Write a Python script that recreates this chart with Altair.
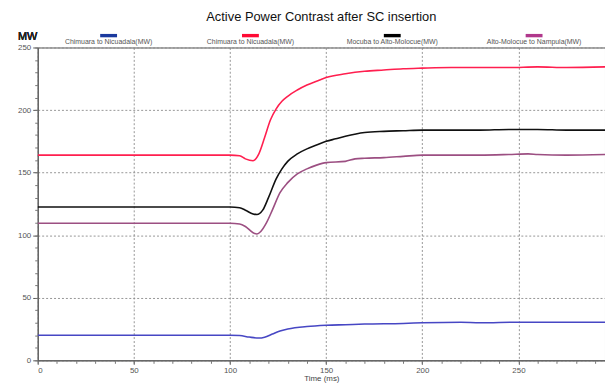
import altair as alt
import pandas as pd

FONT = "Liberation Sans"

series_ids = ["s1", "s2", "s3", "s4"]
series_labels = ["Chimuara to Nicuadala(MW)", "Chimuara to Nicuadala(MW)",
                 "Mocuba to Alto-Molocue(MW)", "Alto-Molocue to Nampula(MW)"]
line_colors = ["#4747c4", "#ff1f4f", "#111111", "#9c4f82"]
swatch_colors = ["#1b3a9e", "#ff0a35", "#000000", "#b0388c"]

t_blue = [0, 100, 105, 110, 115, 118, 122, 126, 130, 140, 150, 160, 170, 190, 200, 220, 230, 250, 270, 295]
v_blue = [20, 20, 19.8, 18.6, 17.8, 18.5, 21, 23.5, 25, 27, 28, 28.5, 29, 29.5, 30, 30.5, 30, 30.5, 30.5, 30.5]

t_red = [0, 100, 105, 108, 112, 115, 118, 121, 124, 127, 130, 135, 140, 145, 150, 160, 170, 180, 190, 200, 215, 230, 245, 260, 275, 295]
v_red = [164, 164, 163.5, 161, 159.5, 165, 178, 192, 201, 207, 211, 216, 220, 223, 226, 229, 231, 232, 233, 233.5, 234, 234, 234, 234.5, 234, 234.5]

t_black = [0, 100, 105, 108, 112, 114, 117, 120, 124, 127, 130, 135, 140, 145, 150, 155, 160, 170, 180, 190, 200, 215, 230, 245, 260, 275, 295]
v_black = [122.5, 122.5, 122, 120, 117, 116.5, 120, 130, 145, 153, 159, 165, 169, 172, 175, 177, 179, 182, 183, 183.5, 184, 184, 184, 184.5, 184.5, 184, 184]

t_pink = [0, 100, 105, 108, 112, 114, 116, 119, 122, 126, 130, 135, 140, 145, 150, 160, 165, 170, 180, 190, 200, 215, 230, 245, 255, 260, 275, 295]
v_pink = [109.5, 109.5, 109, 107, 102, 101, 103, 110, 120, 134, 142, 149, 153, 156, 158, 159, 161, 161.5, 162, 163, 164, 164, 164, 164.5, 165, 164.5, 164, 164.5]

rows = []
for sid, ts, vs in zip(series_ids, [t_blue, t_red, t_black, t_pink], [v_blue, v_red, v_black, v_pink]):
    for t, v in zip(ts, vs):
        rows.append({"id": sid, "t": t, "v": v})
df = pd.DataFrame(rows)
leg = pd.DataFrame({"id": series_ids, "label": series_labels})

W, H = 573, 316
xscale = alt.Scale(domain=[0, 295], nice=False, zero=False)
yscale = alt.Scale(domain=[0, 250], nice=False)

lines = alt.Chart(df).mark_line(strokeWidth=1.6, interpolate="monotone", clip=True).encode(
    x=alt.X("t:Q", scale=xscale, title="Time (ms)",
            axis=alt.Axis(orient="bottom", values=[0, 50, 100, 150, 200, 250, 300], grid=True, gridDash=[2, 2],
                          gridColor="#8a8a8a", gridOpacity=0.9, tickSize=4, tickColor="#555",
                          domainColor="#555", labelFontSize=8, labelColor="#555", labelFont=FONT,
                          titleFont=FONT, titleFontSize=8, titleFontWeight="normal", titleColor="#444",
                          titlePadding=0, labelPadding=2)),
    y=alt.Y("v:Q", scale=yscale, title=None,
            axis=alt.Axis(orient="left", values=[0, 50, 100, 150, 200, 250], grid=True, gridDash=[2, 2],
                          gridColor="#8a8a8a", gridOpacity=0.9, tickSize=5, tickColor="#555",
                          domainColor="#555", labelFontSize=8, labelColor="#555", labelFont=FONT,
                          labelPadding=2)),
    color=alt.Color("id:N", scale=alt.Scale(domain=series_ids, range=line_colors), legend=None),
)

minor = alt.Chart(df).mark_line(opacity=0).encode(
    x=alt.X("t:Q", scale=xscale, title=None,
            axis=alt.Axis(orient="bottom", values=list(range(0, 300, 10)), labels=False, grid=False,
                          domain=False, tickSize=3, tickColor="#777")),
    y=alt.Y("v:Q", scale=yscale, title=None,
            axis=alt.Axis(orient="left", values=list(range(0, 251, 10)), labels=False, grid=False,
                          domain=False, tickSize=3, tickColor="#777")),
)

legx = alt.X("id:N", scale=alt.Scale(domain=series_ids, padding=0.5), axis=None)
swatch = alt.Chart(leg).mark_point(
    shape="M-1,-0.2H1V0.2H-1Z", size=290, filled=True, opacity=1, clip=False
).encode(
    x=legx, y=alt.value(-12),
    color=alt.Color("id:N", scale=alt.Scale(domain=series_ids, range=swatch_colors), legend=None),
)
labels = alt.Chart(leg).mark_text(fontSize=7, font=FONT, color="#555", baseline="middle").encode(
    x=legx, y=alt.value(-6), text="label:N"
)
mw = alt.Chart(leg).mark_text(fontSize=11, font=FONT, color="#222", align="left", baseline="middle").encode(
    x=alt.value(-20), y=alt.value(-11), text=alt.value("MW")
)

base = alt.layer(lines, minor).resolve_axis(x="independent", y="independent")
legend_layer = alt.layer(swatch, labels, mw)

chart = alt.layer(base, legend_layer).resolve_scale(x="independent", color="independent").properties(
    width=W, height=H,
    title=alt.TitleParams("Active Power Contrast after SC insertion", fontSize=13, font=FONT,
                          fontWeight="normal", color="#111", anchor="middle", offset=7),
    autosize=alt.AutoSizeParams(type="none"),
    padding={"left": 30, "top": 38, "right": 0, "bottom": 22},
).configure_view(stroke="#555", strokeWidth=1)

chart.save("out.html", embed_options={"renderer": "svg", "actions": False})
